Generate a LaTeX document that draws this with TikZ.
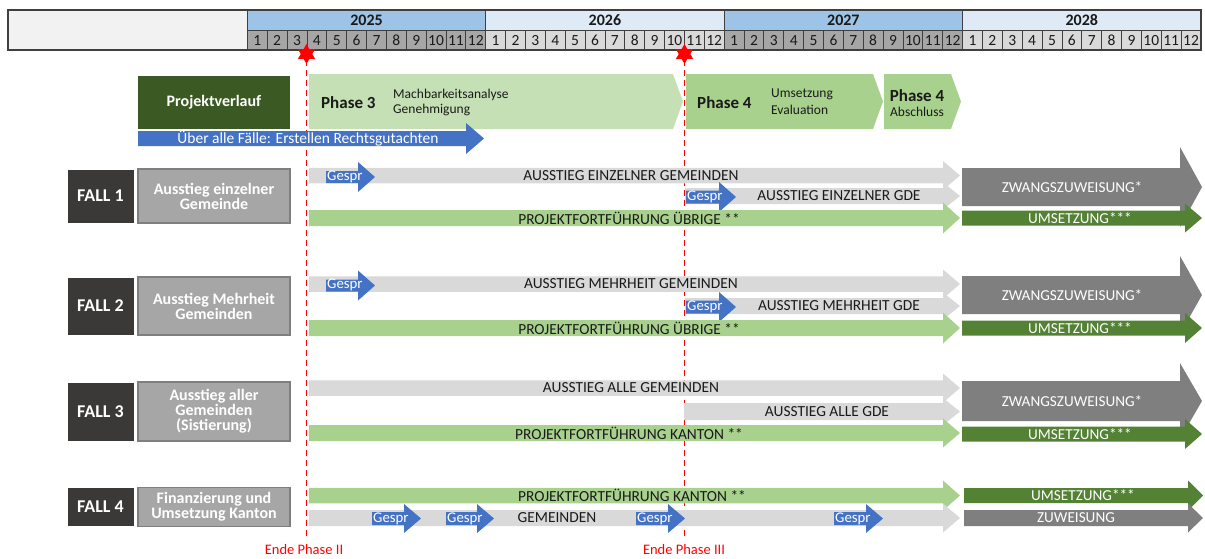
\documentclass[tikz,border=0pt]{standalone}
\usepackage{fontspec}
\setmainfont{Carlito}
\usetikzlibrary{shapes.geometric}
\definecolor{hblue}{HTML}{9DC3E6}
\definecolor{hlight}{HTML}{DEEBF7}
\definecolor{mdark}{HTML}{A6A6A6}
\definecolor{mlight}{HTML}{D9D9D9}
\definecolor{leftcell}{HTML}{F2F2F2}
\definecolor{hdrline}{HTML}{3F3F3F}
\definecolor{phthree}{HTML}{C5E0B4}
\definecolor{phfour}{HTML}{A9D18E}
\definecolor{projdark}{HTML}{3B5A23}
\definecolor{gblue}{HTML}{4472C4}
\definecolor{lgray}{HTML}{D9D9D9}
\definecolor{lgreen}{HTML}{A9D18E}
\definecolor{dgreen}{HTML}{548235}
\definecolor{mgray}{HTML}{7F7F7F}
\definecolor{falldark}{HTML}{3B3838}
\definecolor{labgray}{HTML}{A6A6A6}
\definecolor{labline}{HTML}{7F7F7F}
\definecolor{txtdark}{HTML}{1A1A1A}
% #1 style, #2 x left, #3 x tip, #4 y centre, #5 body half height, #6 head half height, #7 head length
\newcommand{\blockarr}[7]{\fill[#1] ({#2},{#4-#5}) -- ({#3-#7},{#4-#5}) -- ({#3-#7},{#4-#6}) -- ({#3},{#4}) -- ({#3-#7},{#4+#6}) -- ({#3-#7},{#4+#5}) -- ({#2},{#4+#5}) -- cycle;}
\tikzset{
  yeartxt/.style={font=\fontsize{16}{16}\selectfont\bfseries, inner sep=0, text=txtdark},
  monthtxt/.style={font=\fontsize{15.5}{15.5}\selectfont, inner sep=0, text=txtdark},
  rowtxt/.style={font=\fontsize{15.4}{15.4}\selectfont, inner sep=0, text=txtdark},
  whitetxt/.style={font=\fontsize{15.2}{15.2}\selectfont, inner sep=0, text=white},
  gesprtxt/.style={font=\fontsize{14.8}{14.8}\selectfont, inner sep=0, text=white, anchor=west},
  fallbox/.style={fill=falldark, draw=white, line width=0.8pt, inner sep=0, text=white, font=\fontsize{18}{18}\selectfont\bfseries},
  labbox/.style={fill=labgray, draw=labline, line width=1.5pt, inner sep=0, text=white, align=center, font=\fontsize{16}{15}\selectfont\bfseries},
  phasebold/.style={font=\fontsize{17}{17}\selectfont\bfseries, inner sep=0, text=txtdark},
  phasesmall/.style={font=\fontsize{13.5}{13.5}\selectfont, inner sep=0, text=txtdark, anchor=west},
  endline/.style={draw=red, line width=1.3pt, dash pattern=on 6pt off 4pt},
  endtxt/.style={font=\fontsize{14.5}{14.5}\selectfont, inner sep=0, text=red},
  redstar/.style={star, star points=6, star point ratio=1.75, fill=red, draw=none, minimum size=20pt, inner sep=0}
}
\begin{document}
\begin{tikzpicture}[x=1pt,y=-1pt]
\useasboundingbox (0,0) rectangle (1205,558);
% ---------- header
\fill[leftcell] (8,10) rectangle (247.3,50);
\foreach \yr/\yc/\mc/\lab in {0/hblue/mdark/2025, 1/hlight/mlight/2026, 2/hblue/mdark/2027, 3/hlight/mlight/2028}{
  \pgfmathsetmacro{\xa}{247.3+\yr*238.425}
  \filldraw[fill=\yc, draw=hdrline, line width=0.8pt] (\xa,10) rectangle ++(238.425,20.5);
  \node[yeartxt] (y\lab) at (\xa+119.2,20.5) {\lab};
  \foreach \m in {1,...,12}{
    \pgfmathsetmacro{\xm}{\xa+(\m-1)*19.869}
    \filldraw[fill=\mc, draw=hdrline, line width=0.8pt] (\xm,30.5) rectangle ++(19.869,19.5);
    \node[monthtxt] (m\lab-\m) at (\xm+9.93,40.6) {\m};
  }
}
\draw[hdrline, line width=1.6pt] (8,10) rectangle (1201,50);
% ---------- milestone lines (behind the bars)
\coordinate (d1) at (306.5,60);
\coordinate (d2) at (684.5,60);
\coordinate (e1) at (306.5,538);
\coordinate (e2) at (684.5,538);
\draw[endline] (d1) -- (e1);
\draw[endline] (d2) -- (e2);
% ---------- phase row
\node[fill=projdark, minimum width=152pt, minimum height=53pt, inner sep=0, text=white, font=\fontsize{16}{16}\selectfont\bfseries] (proj) at (214,102.5) {Projektverlauf};
\fill[phthree] (309,74) -- (673,74) -- (683,101.5) -- (673,129) -- (309,129) -- cycle;
\node[phasebold, anchor=west] (ph3) at (321,103) {Phase 3};
\node[phasesmall] (ph3a) at (393,94.5) {Machbarkeitsanalyse};
\node[phasesmall] (ph3b) at (393,110) {Genehmigung};
\fill[phfour] (686,74) -- (873,74) -- (883,101.5) -- (873,129) -- (686,129) -- cycle;
\node[phasebold, anchor=west] (ph4) at (697,103) {Phase 4};
\node[phasesmall] (ph4a) at (771,94.5) {Umsetzung};
\node[phasesmall] (ph4b) at (771,110) {Evaluation};
\fill[phfour] (884,74) -- (951,74) -- (961,101.5) -- (951,129) -- (884,129) -- cycle;
\node[phasebold] (ph5) at (917,96) {Phase 4};
\node[phasesmall, anchor=center] (ph5a) at (917,111.5) {Abschluss};
\blockarr{gblue}{138}{484}{138.5}{7.5}{15.5}{18}
\node[whitetxt, font=\fontsize{15.5}{15.5}\selectfont] (gut) at (308,138.5) {Über alle Fälle: Erstellen Rechtsgutachten};
% ---------- FALL 1
\node[fallbox, minimum width=67pt, minimum height=54pt] (f1) at (100.5,196) {FALL 1};
\node[labbox, minimum width=152pt, minimum height=54pt] (l1) at (214,196) {Ausstieg einzelner\\Gemeinde};
\blockarr{lgray}{309}{960}{175.5}{7.75}{14.5}{17}
\node[rowtxt] (f1a) at (631,175.5) {AUSSTIEG EINZELNER GEMEINDEN};
\blockarr{gblue}{326}{375}{177}{6}{15}{17}
\node[gesprtxt] (g1a) at (327,176.5) {Gespr};
\blockarr{lgray}{685}{960}{196}{8}{13.5}{17}
\node[rowtxt] (f1b) at (839,196) {AUSSTIEG EINZELNER GDE};
\blockarr{gblue}{686}{736}{197}{6.5}{15}{17}
\node[gesprtxt] (g1b) at (687,197) {Gespr};
\blockarr{lgreen}{309}{960}{218}{8}{15.5}{17}
\node[rowtxt] (f1c) at (629,218) {PROJEKTFORTFÜHRUNG ÜBRIGE **};
\blockarr{mgray}{962}{1202}{187}{19}{40}{22}
\node[whitetxt] (f1z) at (1072,187) {ZWANGSZUWEISUNG*};
\blockarr{dgreen}{962}{1202}{218}{7.5}{14.5}{17}
\node[whitetxt] (f1u) at (1080,218) {UMSETZUNG***};
% ---------- FALL 2
\node[fallbox, minimum width=67pt, minimum height=58pt] (f2) at (100.5,306) {FALL 2};
\node[labbox, minimum width=152pt, minimum height=58pt] (l2) at (214,306) {Ausstieg Mehrheit\\Gemeinden};
\blockarr{lgray}{309}{960}{284}{7.75}{14.5}{17}
\node[rowtxt] (f2a) at (631,284) {AUSSTIEG MEHRHEIT GEMEINDEN};
\blockarr{gblue}{326}{375}{285.5}{6}{15}{17}
\node[gesprtxt] (g2a) at (327,285) {Gespr};
\blockarr{lgray}{685}{960}{306}{8}{13.5}{17}
\node[rowtxt] (f2b) at (839,306) {AUSSTIEG MEHRHEIT GDE};
\blockarr{gblue}{686}{736}{307}{6.5}{15}{17}
\node[gesprtxt] (g2b) at (687,307) {Gespr};
\blockarr{lgreen}{309}{960}{328}{8}{15.5}{17}
\node[rowtxt] (f2c) at (629,328) {PROJEKTFORTFÜHRUNG ÜBRIGE **};
\blockarr{mgray}{962}{1202}{295}{19}{39}{22}
\node[whitetxt] (f2z) at (1072,295) {ZWANGSZUWEISUNG*};
\blockarr{dgreen}{962}{1202}{328}{7.5}{15}{17}
\node[whitetxt] (f2u) at (1080,328) {UMSETZUNG***};
% ---------- FALL 3
\node[fallbox, minimum width=67pt, minimum height=59pt] (f3) at (100.5,411.5) {FALL 3};
\node[labbox, minimum width=152pt, minimum height=59pt] (l3) at (214,411.5) {Ausstieg aller\\Gemeinden\\(Sistierung)};
\blockarr{lgray}{309}{960}{388}{7.75}{14.5}{17}
\node[rowtxt] (f3a) at (631,388) {AUSSTIEG ALLE GEMEINDEN};
\blockarr{lgray}{684}{960}{411.5}{8.5}{13.5}{17}
\node[rowtxt] (f3b) at (827,411.5) {AUSSTIEG ALLE GDE};
\blockarr{lgreen}{309}{960}{433}{8}{14.5}{17}
\node[rowtxt] (f3c) at (629,433) {PROJEKTFORTFÜHRUNG KANTON **};
\blockarr{mgray}{962}{1202}{401}{20}{38}{22}
\node[whitetxt] (f3z) at (1072,401) {ZWANGSZUWEISUNG*};
\blockarr{dgreen}{962}{1202}{434}{7.5}{15}{17}
\node[whitetxt] (f3u) at (1080,434) {UMSETZUNG***};
% ---------- FALL 4
\node[fallbox, minimum width=67pt, minimum height=39pt] (f4) at (100.5,507) {FALL 4};
\node[labbox, minimum width=152pt, minimum height=39pt] (l4) at (214,507) {Finanzierung und\\Umsetzung Kanton};
\blockarr{lgreen}{309}{960}{495.5}{7.75}{15}{17}
\node[rowtxt] (f4a) at (632,495.5) {PROJEKTFORTFÜHRUNG KANTON **};
\blockarr{lgray}{309}{960}{518}{8}{14.5}{17}
\node[rowtxt] (f4b) at (557,518) {GEMEINDEN};
\blockarr{gblue}{372}{421}{518.5}{6.5}{14.5}{17}
\node[gesprtxt] (g4a) at (373,518.5) {Gespr};
\blockarr{gblue}{446}{494}{518.5}{6.5}{14.5}{17}
\node[gesprtxt] (g4b) at (447,518.5) {Gespr};
\blockarr{gblue}{636}{685}{518.5}{6.5}{14.5}{17}
\node[gesprtxt] (g4c) at (637,518.5) {Gespr};
\blockarr{gblue}{834}{883}{518.5}{6.5}{14.5}{17}
\node[gesprtxt] (g4d) at (835,518.5) {Gespr};
\blockarr{dgreen}{964}{1203}{495.5}{7.5}{15}{15}
\node[whitetxt] (f4u) at (1083,495.5) {UMSETZUNG***};
\blockarr{mgray}{964}{1203}{518}{8}{14.5}{15}
\node[whitetxt] (f4z) at (1076,518) {ZUWEISUNG};
% ---------- milestones
\node[redstar] (s1) at (306.5,54) {};
\node[redstar] (s2) at (684.5,54) {};
\node[endtxt] (t1) at (304,550) {Ende Phase II};
\node[endtxt] (t2) at (684,550) {Ende Phase III};
\end{tikzpicture}
\end{document}
